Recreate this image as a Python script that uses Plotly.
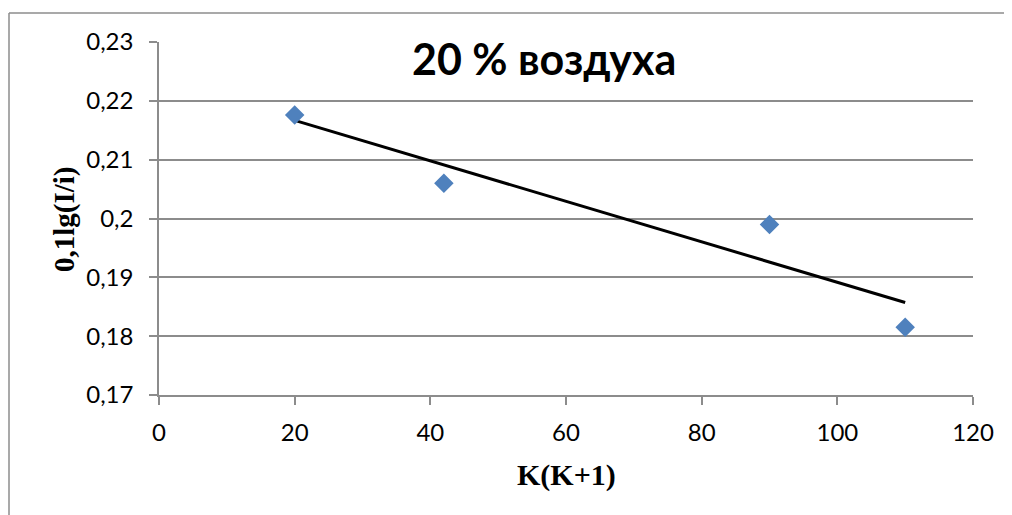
import numpy as np
import plotly.graph_objects as go

# Data
k_values = [20, 42, 90, 110]
lg_values = [0.2176, 0.206, 0.199, 0.1815]
x_ticks = [0, 20, 40, 60, 80, 100, 120]
y_ticks = [0.17, 0.18, 0.19, 0.20, 0.21, 0.22, 0.23]
y_tick_labels = ["0,17", "0,18", "0,19", "0,2", "0,21", "0,22", "0,23"]
chart_title = "20 % воздуха"
x_title = "K(K+1)"
y_title = "0,1lg(I/i)"

# linear trendline (least squares)
slope, intercept = np.polyfit(k_values, lg_values, 1)
trend_x = [min(k_values), max(k_values)]
trend_y = [slope * v + intercept for v in trend_x]

OFF = 8  # page body margin
W, H = 1012 - OFF, 515 - OFF
# target plot area in screen pixels: x 159..973, y 42..395
L = 159 - OFF
T = 42 - OFF
R = W - (973 - OFF)
B = H - (395 - OFF)
pw, ph = W - L - R, H - T - B

def sx(px):
    return (px - OFF - L) / pw

def sy(py):
    return (H - B - (py - OFF)) / ph

fig = go.Figure()
fig.add_trace(go.Scatter(
    x=trend_x, y=trend_y, mode="lines",
    line=dict(color="black", width=3), showlegend=False, hoverinfo="skip"))
fig.add_trace(go.Scatter(
    x=k_values, y=lg_values, mode="markers",
    marker=dict(symbol="diamond", size=15, color="#4F81BD",
                line=dict(width=0)), showlegend=False))

grid_col = "#8c8c8c"
serif = "Liberation Serif, Times New Roman, serif"
sans = "Lato, Carlito, Calibri, sans-serif"
fig.update_layout(
    width=W, height=H,
    margin=dict(l=L, r=R, t=T, b=B, pad=0),
    paper_bgcolor="white", plot_bgcolor="white",
    font=dict(family=sans, size=24, color="black"),
    xaxis=dict(
        range=[0, 120], tickvals=x_ticks, ticktext=[str(v) for v in x_ticks],
        showgrid=False, zeroline=False,
        showline=True, linecolor=grid_col, linewidth=1.5,
        ticks="outside", ticklen=8, tickcolor=grid_col, tickwidth=1.5,
        ticklabelstandoff=7,
    ),
    yaxis=dict(
        range=[0.17, 0.23], tickvals=y_ticks, ticktext=y_tick_labels,
        showgrid=True, gridcolor=grid_col, gridwidth=1.5, zeroline=False,
        showline=True, linecolor=grid_col, linewidth=1.5,
        ticks="outside", ticklen=8, tickcolor=grid_col, tickwidth=1.5,
        ticklabelstandoff=11,
    ),
    annotations=[
        dict(text="<b>" + chart_title + "</b>", xref="paper", yref="paper",
             x=sx(544), y=sy(58), xanchor="center", yanchor="middle",
             showarrow=False, font=dict(family=sans, size=43, color="black")),
        dict(text="<b>" + x_title + "</b>", xref="paper", yref="paper",
             x=sx(566), y=sy(475), xanchor="center", yanchor="middle",
             showarrow=False, font=dict(family=serif, size=30, color="black")),
        dict(text="<b>" + y_title + "</b>", xref="paper", yref="paper",
             x=sx(64), y=sy(219), xanchor="center", yanchor="middle", textangle=-90,
             showarrow=False, font=dict(family=serif, size=29, color="black")),
    ],
    shapes=[
        dict(type="line", xref="paper", yref="paper",
             x0=sx(9), y0=sy(13), x1=sx(1030), y1=sy(13),
             line=dict(color=grid_col, width=1.5), layer="below"),
        dict(type="line", xref="paper", yref="paper",
             x0=sx(9), y0=sy(13), x1=sx(9), y1=sy(540),
             line=dict(color=grid_col, width=1.5), layer="below"),
    ],
)

fig.write_html("out.html")
